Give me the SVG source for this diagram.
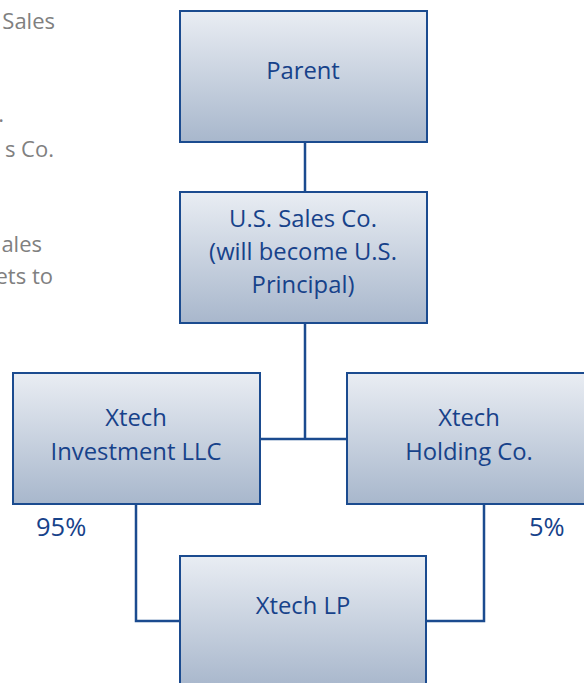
<svg xmlns="http://www.w3.org/2000/svg" width="584" height="683" viewBox="0 0 584 683">
<defs>
<linearGradient id="g" x1="0" y1="0" x2="0" y2="1">
<stop offset="0" stop-color="#e9edf3"/>
<stop offset="1" stop-color="#a8b7cc"/>
</linearGradient>
<style>
.box{fill:url(#g);stroke:#1b4b8f;stroke-width:2}
.t{font-family:"Open Sans","Liberation Sans",sans-serif;font-size:23.8px;fill:#17428a;text-anchor:middle}
.p{font-family:"Open Sans","Liberation Sans",sans-serif;font-size:25.5px;fill:#17428a}
.side{font-family:"Open Sans","Liberation Sans",sans-serif;font-size:22px;fill:#808080;text-anchor:end}
.c{fill:none;stroke:#1b4b8f;stroke-width:2.5}
</style>
</defs>
<rect width="584" height="683" fill="#ffffff"/>
<g id="side-text">
<text class="side" x="55" y="29">Sales</text>
<text class="side" x="4" y="122">.</text>
<text class="side" x="54" y="157">s Co.</text>
<text class="side" x="42" y="252">ales</text>
<text class="side" x="53" y="284">ets to</text>
</g>
<g id="connectors">
<path class="c" d="M305 142V194"/>
<path class="c" d="M305 323V439M260 439H347"/>
<path class="c" d="M136 504V621H180"/>
<path class="c" d="M484 504V621H426"/>
</g>
<g id="parent">
<rect class="box" x="180" y="11" width="247" height="131"/>
<text class="t" x="303" y="79">Parent</text>
</g>
<g id="us-sales">
<rect class="box" x="180" y="192" width="247" height="131"/>
<text class="t" x="303" y="227">U.S. Sales Co.</text>
<text class="t" x="303" y="260">(will become U.S.</text>
<text class="t" x="303" y="293">Principal)</text>
</g>
<g id="xtech-investment">
<rect class="box" x="13" y="373" width="247" height="131"/>
<text class="t" x="136" y="426">Xtech</text>
<text class="t" x="136" y="460">Investment LLC</text>
</g>
<g id="xtech-holding">
<rect class="box" x="347" y="373" width="247" height="131"/>
<text class="t" x="469" y="426">Xtech</text>
<text class="t" x="469" y="460">Holding  Co.</text>
</g>
<g id="xtech-lp">
<rect class="box" x="180" y="556" width="246" height="131"/>
<text class="t" x="303" y="614">Xtech LP</text>
</g>
<g id="labels">
<text class="p" x="36" y="536">95%</text>
<text class="p" x="529" y="536">5%</text>
</g>
</svg>
